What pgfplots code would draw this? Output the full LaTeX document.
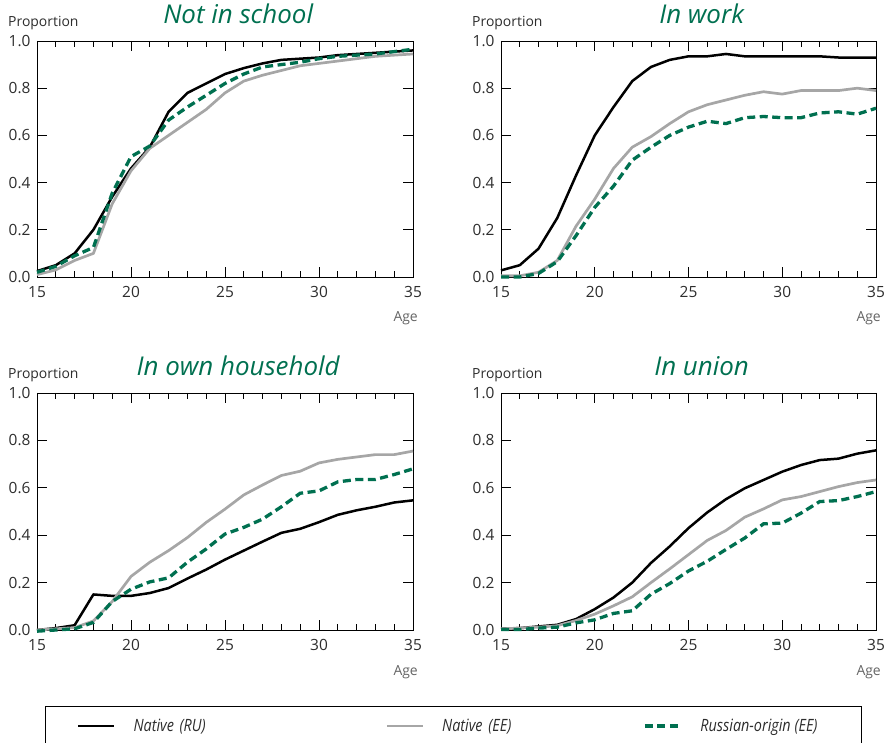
\documentclass[border=0pt]{standalone}
\usepackage{fontspec}
\setmainfont{Open Sans}
\newfontfamily\legfont[FakeStretch=0.85]{Open Sans}
\usepackage{pgfplots}
\usepackage{pgfplotstable}
\pgfplotsset{compat=1.18}
\definecolor{ttgreen}{RGB}{0,112,80}
\definecolor{ttgray}{RGB}{166,166,166}
\definecolor{txt}{RGB}{45,45,45}
\definecolor{agegray}{RGB}{100,100,100}

\pgfplotstableread{
age nr ne ro
15 0.025 0.010 0.020
16 0.050 0.030 0.045
17 0.100 0.070 0.090
18 0.200 0.100 0.125
19 0.340 0.310 0.355
20 0.460 0.450 0.510
21 0.550 0.545 0.555
22 0.700 0.600 0.665
23 0.780 0.655 0.720
24 0.820 0.710 0.770
25 0.860 0.780 0.820
26 0.885 0.830 0.860
27 0.905 0.855 0.890
28 0.920 0.875 0.900
29 0.925 0.895 0.910
30 0.930 0.905 0.925
31 0.940 0.915 0.935
32 0.945 0.925 0.940
33 0.950 0.935 0.945
34 0.955 0.940 0.955
35 0.960 0.945 0.965
}\school

\pgfplotstableread{
age nr ne ro
15 0.028 0.005 0.000
16 0.050 0.005 0.000
17 0.120 0.020 0.015
18 0.250 0.070 0.065
19 0.430 0.215 0.175
20 0.600 0.330 0.295
21 0.720 0.460 0.385
22 0.830 0.550 0.495
23 0.890 0.595 0.550
24 0.920 0.650 0.600
25 0.935 0.700 0.635
26 0.935 0.730 0.660
27 0.945 0.750 0.650
28 0.935 0.770 0.675
29 0.935 0.785 0.680
30 0.935 0.775 0.675
31 0.935 0.790 0.675
32 0.935 0.790 0.695
33 0.930 0.790 0.700
34 0.930 0.800 0.690
35 0.930 0.790 0.715
}\work

\pgfplotstableread{
age nr ne ro
15 0.000 0.000 -0.005
16 0.008 0.005 0.000
17 0.020 0.010 0.005
18 0.150 0.038 0.032
19 0.144 0.120 0.120
20 0.144 0.226 0.172
21 0.156 0.286 0.203
22 0.177 0.335 0.220
23 0.217 0.390 0.286
24 0.255 0.454 0.342
25 0.297 0.510 0.405
26 0.335 0.570 0.433
27 0.373 0.612 0.468
28 0.410 0.652 0.520
29 0.427 0.670 0.577
30 0.455 0.705 0.587
31 0.486 0.720 0.625
32 0.505 0.730 0.635
33 0.520 0.740 0.635
34 0.538 0.740 0.656
35 0.547 0.755 0.680
}\household

\pgfplotstableread{
age nr ne ro
15 0.005 0.005 0.002
16 0.008 0.008 0.002
17 0.015 0.012 0.008
18 0.022 0.018 0.012
19 0.046 0.040 0.030
20 0.088 0.067 0.043
21 0.137 0.102 0.070
22 0.200 0.140 0.081
23 0.283 0.200 0.151
24 0.353 0.258 0.196
25 0.430 0.318 0.249
26 0.496 0.378 0.290
27 0.552 0.420 0.340
28 0.598 0.476 0.388
29 0.633 0.511 0.448
30 0.668 0.549 0.451
31 0.696 0.563 0.493
32 0.717 0.584 0.542
33 0.723 0.605 0.546
34 0.744 0.622 0.563
35 0.758 0.633 0.584
}\union

\pgfplotsset{
  panel/.style={
    scale only axis, width=376bp, height=236bp,
    xmin=15, xmax=35, ymin=0, ymax=1,
    xtick={15,20,25,30,35}, minor x tick num=4,
    ytick={0,0.2,0.4,0.6,0.8,1},
    /pgf/number format/assume math mode=true,
    y tick label style={/pgf/number format/fixed, /pgf/number format/fixed zerofill,
      /pgf/number format/precision=1, xshift=-3bp},
    tick align=inside, major tick length=10bp, minor tick length=6bp,
    tick style={black, line width=0.8bp},
    axis line style={line width=0.8bp},
    tick label style={font=\fontsize{15.5}{18}\selectfont, text=txt},
    x tick label style={yshift=-6bp},
    clip=false,
    title style={at={(0.535,1)}, anchor=base, yshift=12bp,
      font=\fontsize{26}{30}\selectfont\itshape, text=ttgreen},
    legend image code/.code={\draw[##1] (0bp,0bp) -- (36bp,0bp);},
  },
  nr/.style={black, line width=2.5bp, line join=round},
  ne/.style={ttgray, line width=2.7bp, line join=round},
  ro/.style={ttgreen, line width=3.3bp, dash pattern=on 8bp off 4.5bp},
}
\newcommand{\decor}{%
  \node[anchor=base west, inner sep=0pt, font=\fontsize{14}{17}\selectfont, text=txt]
    at (rel axis cs:0,1) [xshift=-29bp, yshift=14.5bp] {Proportion};
  \node[anchor=base east, inner sep=0pt, font=\fontsize{14}{17}\selectfont, text=agegray]
    at (rel axis cs:1,0) [xshift=5bp, yshift=-45bp] {Age};
}

\begin{document}
\begin{tikzpicture}
\path[use as bounding box] (0bp,0bp) rectangle (887bp,743bp);

\begin{axis}[panel, at={(37bp,466bp)}, anchor=south west, title={Not in school}]
\addplot[nr] table[x=age,y=nr] {\school};
\addplot[ne] table[x=age,y=ne] {\school};
\addplot[ro] table[x=age,y=ro] {\school};
\decor
\end{axis}

\begin{axis}[panel, width=375bp, at={(501bp,466bp)}, anchor=south west, title={In work}]
\addplot[nr] table[x=age,y=nr] {\work};
\addplot[ne] table[x=age,y=ne] {\work};
\addplot[ro] table[x=age,y=ro] {\work};
\decor
\end{axis}

\begin{axis}[panel, height=237bp, at={(37bp,113bp)}, anchor=south west, title={In own household},
  legend columns=3,
  legend style={at={(0.1064,-0.405)}, anchor=west, draw=none, fill=none,
    inner sep=0pt, outer sep=0pt,
    font=\fontsize{17}{20}\selectfont\legfont\itshape, text=txt,
    /tikz/every odd column/.append style={column sep=16bp}},
  legend cell align=left]
\addplot[nr] table[x=age,y=nr] {\household};
\addlegendentry[text width=250bp]{Native (RU)}
\addplot[ne] table[x=age,y=ne] {\household};
\addlegendentry[text width=199bp]{Native (EE)}
\addplot[ro] table[x=age,y=ro] {\household};
\addlegendentry{Russian-origin (EE)}
\decor
\end{axis}

\begin{axis}[panel, width=375bp, height=237bp, at={(501bp,113bp)}, anchor=south west, title={In union}]
\addplot[nr] table[x=age,y=nr] {\union};
\addplot[ne] table[x=age,y=ne] {\union};
\addplot[ro] table[x=age,y=ro] {\union};
\decor
\end{axis}

\draw[line width=0.8bp, black] (45bp,-20bp) -- (45bp,37bp) -- (861bp,37bp) -- (861bp,-20bp);
\end{tikzpicture}
\end{document}
